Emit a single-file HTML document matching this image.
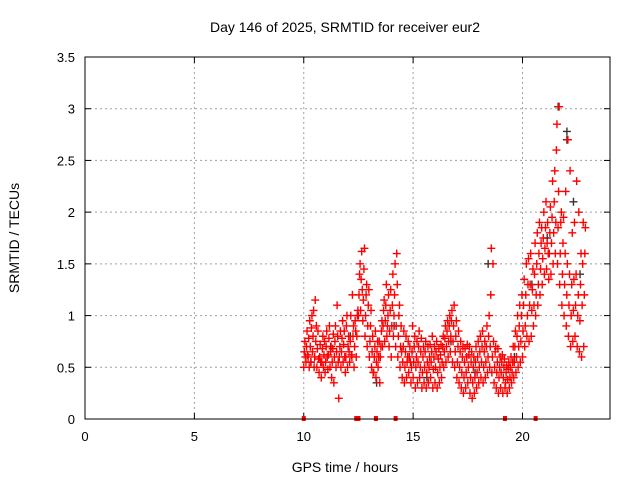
<!DOCTYPE html>
<html><head><meta charset="utf-8"><style>
body{margin:0;background:#fff}
svg{display:block;font-family:"Liberation Sans",sans-serif}
</style></head><body>
<svg id="chart" width="640" height="480" viewBox="0 0 640 480">
<rect width="640" height="480" fill="#fff"/>
<g id="grid"></g>
<g id="ticks"></g>
<g id="marks"></g>
<rect x="85" y="57" width="525" height="362" fill="none" stroke="#000" stroke-width="1"/>
<text x="345" y="32" font-size="14" text-anchor="middle">Day 146 of 2025, SRMTID for receiver eur2</text>
<text x="345" y="472" font-size="14" text-anchor="middle">GPS time / hours</text>
<text transform="translate(19,238) rotate(-90)" font-size="14" text-anchor="middle">SRMTID / TECUs</text>
</svg>
<script>
const xTicks=[0,5,10,15,20];
const yTicks=[0,0.5,1,1.5,2,2.5,3,3.5];
const yTickLabels=["0","0.5","1","1.5","2","2.5","3","3.5"];
const hours=[10.0,10.1,10.2,10.3,10.4,10.5,10.6,10.7,10.8,10.9,11.0,11.1,11.2,11.3,11.4,11.5,11.6,11.7,11.8,11.9,12.0,12.1,12.2,12.3,12.4,12.5,12.6,12.7,12.8,12.9,13.0,13.1,13.2,13.3,13.4,13.5,13.6,13.7,13.8,13.9,14.0,14.1,14.2,14.3,14.4,14.5,14.6,14.7,14.8,14.9,15.0,15.1,15.2,15.3,15.4,15.5,15.6,15.7,15.8,15.9,16.0,16.1,16.2,16.3,16.4,16.5,16.6,16.7,16.8,16.9,17.0,17.1,17.2,17.3,17.4,17.5,17.6,17.7,17.8,17.9,18.0,18.1,18.2,18.3,18.4,18.5,18.6,18.7,18.8,18.9,19.0,19.1,19.2,19.3,19.4,19.5,19.6,19.7,19.8,19.9,20.0,20.1,20.2,20.3,20.4,20.5,20.6,20.7,20.8,20.9,21.0,21.1,21.2,21.3,21.4,21.5,21.6,21.7,21.8,21.9,22.0,22.1,22.2,22.3,22.4,22.5,22.6,22.7,22.8];
const srmtid=[[.5,.65,.75,.6],[.55,.7,.85,.62],[.6,.78,.5,.95],[.7,.55,.88,1.0],[.65,.8,1.05,.5],[.6,1.15,.75,.9],[.5,.68,.85,.58],[.45,.6,.72,.55],[.4,.55,.68,.8],[.5,.62,.75,.45],
[.55,.7,.85,.6],[.48,.62,.78,.9],[.5,.65,.7,.4],[.55,.68,.82,.35],[.6,.75,.9,.5],[.65,1.1,.8,.55],[.2,.6,.7,.85],[.5,.65,.78,.95],[.55,.72,.85,.6],[.45,.6,.9,1.0],
[.5,.7,.8,.65],[.55,.75,1.0,.62],[.6,1.2,.8,.9],[.5,.7,.95,.85],[.6,.8,1.0,1.05],[1.0,1.2,1.4,1.5],[1.05,1.35,1.62,1.25],[.95,1.15,1.45,1.65],[.8,1.0,1.2,1.3],[.7,.9,1.1,1.25],
[.6,.75,.9,1.05],[.5,.65,.8,.45],[.45,.6,.7,.85],[.4,.55,.65,.75],[.5,.6,.75,.35],[.6,.7,.85,.95],[.7,.9,1.05,1.15],[.75,.95,1.1,1.3],[.8,.9,1.0,1.2],[.7,.85,1.05,1.25],
[.6,.9,1.1,1.4],[.8,1.0,1.2,1.5],[.7,.9,1.6,1.3],[.6,.8,1.0,1.1],[.5,.7,.9,.65],[.4,.55,.7,.85],[.35,.5,.65,.8],[.4,.55,.6,.75],[.45,.6,.7,.55],[.35,.5,.65,.9],
[.4,.55,.7,.8],[.3,.5,.6,.75],[.35,.55,.7,.85],[.4,.5,.65,.78],[.3,.45,.6,.7],[.35,.5,.65,.75],[.3,.45,.55,.7],[.35,.5,.6,.72],[.4,.55,.65,.8],[.3,.48,.6,.7],
[.35,.5,.65,.75],[.3,.45,.58,.68],[.35,.5,.62,.72],[.4,.55,.7,.8],[.5,.65,.78,.9],[.55,.7,.85,.95],[.6,.75,.9,1.0],[.65,.8,.95,1.05],[.55,.75,.9,1.1],[.5,.65,.8,.95],
[.4,.55,.7,.85],[.35,.5,.65,.75],[.3,.45,.6,.7],[.25,.4,.55,.68],[.3,.45,.6,.72],[.35,.5,.62,.7],[.25,.4,.55,.65],[.2,.35,.5,.6],[.25,.4,.55,.7],[.3,.45,.6,.75],
[.35,.5,.65,.8],[.4,.55,.7,.85],[.35,.5,.65,.75],[.4,.55,.7,.9],[.45,.6,.8,1.0],[.5,.7,1.2,1.65],[.45,.6,1.5,.75],[.35,.5,.65,.7],[.3,.45,.55,.68],[.25,.4,.5,.6],
[.3,.45,.55,.62],[.25,.4,.5,.58],[.3,.35,.45,.52],[.25,.38,.48,.55],[.3,.4,.5,.6],[.35,.45,.55,.7],[.4,.55,.7,.85],[.45,.6,.8,1.0],[.5,.7,.9,1.1],[.55,.75,1.0,1.2],
[.6,.85,1.1,1.35],[.7,.9,1.2,1.5],[.8,1.0,1.3,1.55],[.75,1.1,1.3,1.6],[.8,1.05,1.25,1.45],[.9,1.1,1.4,1.7],[1.0,1.2,1.5,1.8],[1.1,1.3,1.6,1.9],[1.2,1.45,1.7,1.85],[1.3,1.55,1.75,2.0],
[1.4,1.65,1.85,2.1],[1.45,1.7,1.9,1.6],[1.35,1.6,1.8,2.05],[1.4,1.7,1.95,2.3],[1.5,1.8,2.1,2.4],[1.6,1.9,2.6,2.85],[1.5,1.85,2.2,3.02],[1.3,1.6,1.9,2.0],[1.1,1.4,1.7,1.95],[1.0,1.3,1.6,2.2],
[.9,1.2,1.5,2.7],[.8,1.1,1.4,2.4],[.7,1.0,1.3,1.8],[.75,1.05,1.35,1.9],[.8,1.1,1.4,2.3],[.7,1.0,1.2,2.0],[.65,.95,1.3,1.6],[.6,1.1,1.5,1.9],[.7,1.2,1.6,1.85]];
const blackHours=[10.3,11.2,12.1,13.3,14.1,15.6,16.7,17.8,18.4,19.6,20.4,21.1,21.6,22.0,22.0,22.3,22.6];
const blackValues=[.55,.7,.8,.35,.9,.4,.75,.45,1.5,.6,1.3,1.75,3.02,2.78,2.7,2.1,1.4];
const zeroHours=[10.0,12.4,12.5,13.3,14.2,19.2,20.6];

const X0=85,X1=610,Y0=419,Y1=57;
function xs(h){return X0+(h/24)*(X1-X0);}
function ys(v){return Y0-(v/3.5)*(Y0-Y1);}
const NS="http://www.w3.org/2000/svg";
function mk(tag,attrs,parent){const e=document.createElementNS(NS,tag);for(const k in attrs)e.setAttribute(k,attrs[k]);parent.appendChild(e);return e;}
const grid=document.getElementById('grid'),ticks=document.getElementById('ticks'),marks=document.getElementById('marks');
xTicks.forEach(t=>{const x=xs(t);
 if(t>0){const g=mk('line',{x1:x,y1:Y1,x2:x,y2:Y0,stroke:'#a0a0a0','stroke-dasharray':'2,3'},grid);
 
 }
 mk('line',{x1:x,y1:Y0,x2:x,y2:Y0-6,stroke:'#000'},ticks);
 mk('line',{x1:x,y1:Y1,x2:x,y2:Y1+6,stroke:'#000'},ticks);
 const l=mk('text',{x:x,y:Y0+22,'font-size':13,'text-anchor':'middle'},ticks);l.textContent=t;
 
 });
yTicks.forEach((t,i)=>{const y=ys(t);
 if(t>0&&t<3.5){const g=mk('line',{x1:X0,y1:y,x2:X1,y2:y,stroke:'#a0a0a0','stroke-dasharray':'2,3'},grid);
 
 }
 mk('line',{x1:X0,y1:y,x2:X0+6,y2:y,stroke:'#000'},ticks);
 mk('line',{x1:X1,y1:y,x2:X1-6,y2:y,stroke:'#000'},ticks);
 const l=mk('text',{x:X0-10,y:y+5,'font-size':13,'text-anchor':'end'},ticks);l.textContent=yTickLabels[i];
 
 });
function plus(h,v,color,name){const x=xs(h),y=ys(v);
 const p=mk('path',{d:`M${x-4} ${y}h8M${x} ${y-4}v8`,stroke:color,'stroke-width':1.4,fill:'none'},marks);
 
 }
blackHours.forEach((h,i)=>plus(h+0.03,blackValues[i],'#333','black-point'));
hours.forEach((h,i)=>srmtid[i].forEach((v,k)=>plus(h+k*0.025,v,'#ff0000','srmtid-point')));
zeroHours.forEach(h=>{const r=mk('rect',{x:xs(h)-2,y:Y0-3,width:4,height:5,fill:'#ff0000'},marks);
 
 });
</script>
</body></html>
